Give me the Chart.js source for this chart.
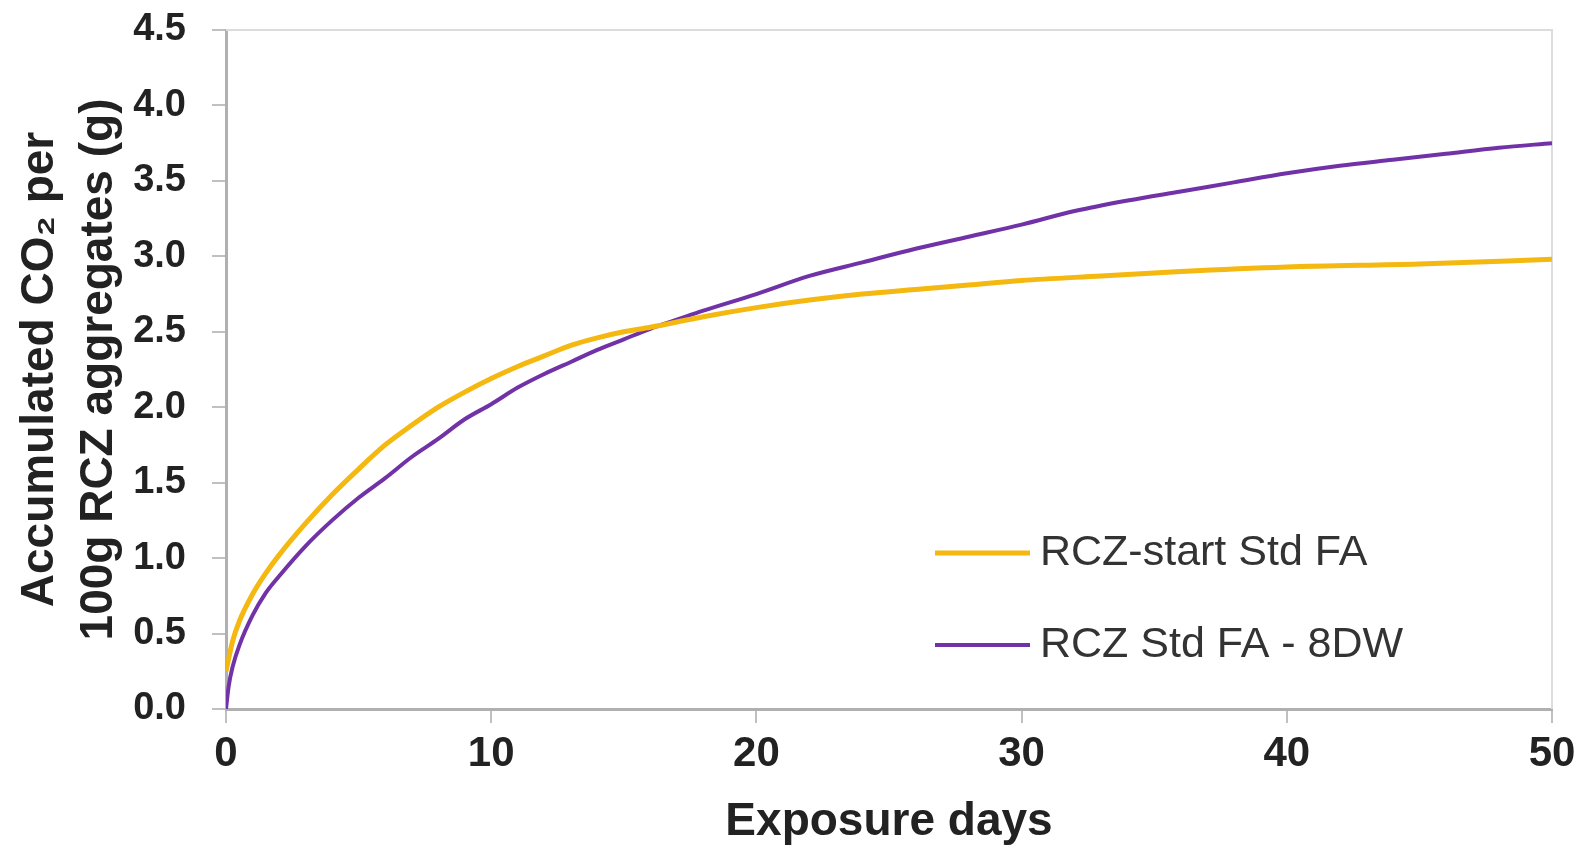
<!DOCTYPE html>
<html>
<head>
<meta charset="utf-8">
<script src="https://cdn.jsdelivr.net/npm/chart.js@4.4.0/dist/chart.umd.min.js"></script>
<style>
    html, body { margin: 0; padding: 0; background: #fff; }
    #wrap { width: 1583px; height: 854px; }
</style>
</head>
<body>
<div id="wrap"><canvas id="chartCO2" width="1583" height="854"></canvas></div>
<script>
// Datos
const diasStart = [0, 0.25, 0.5, 1, 1.5, 2, 3, 4, 5, 6, 7, 8, 9, 10, 11, 12, 13, 14, 15, 16, 18, 20, 22, 24, 26, 28, 30, 33, 36, 40, 45, 50];
const co2Start  = [0.25, 0.45, 0.58, 0.76, 0.90, 1.02, 1.23, 1.42, 1.59, 1.75, 1.88, 2.00, 2.10, 2.19, 2.27, 2.34, 2.41, 2.46, 2.50, 2.53, 2.60, 2.66, 2.71, 2.75, 2.78, 2.81, 2.84, 2.87, 2.90, 2.93, 2.95, 2.98];

const dias8DW = [0, 0.1, 0.25, 0.5, 1, 1.5, 2, 3, 4, 5, 6, 7, 8, 9, 10, 11, 12, 13, 14, 15, 16, 17, 18, 20, 22, 24, 26, 28, 30, 32, 34, 36, 38, 40, 42, 44, 46, 48, 50];
const co2_8DW = [0, 0.15, 0.28, 0.42, 0.62, 0.77, 0.88, 1.08, 1.25, 1.40, 1.53, 1.67, 1.79, 1.92, 2.02, 2.13, 2.22, 2.30, 2.38, 2.45, 2.52, 2.58, 2.64, 2.75, 2.87, 2.96, 3.05, 3.13, 3.21, 3.30, 3.37, 3.43, 3.49, 3.55, 3.60, 3.64, 3.68, 3.72, 3.75];

const nombresSeries = ['RCZ-start Std FA', 'RCZ Std FA - 8DW'];
const coloresSeries = ['#f4b810', '#7132a8'];
const ticksX = [0, 10, 20, 30, 40, 50];
const ticksY = [0, 0.5, 1, 1.5, 2, 2.5, 3, 3.5, 4, 4.5];

const FUENTE = '"Liberation Sans", Arial, sans-serif';

function aPuntos(xs, ys) {
    return xs.map((x, i) => ({ x: x, y: ys[i] }));
}

// Borde superior y derecho del área del gráfico (gris claro)
const bordePlugin = {
    id: 'bordeArea',
    beforeDatasetsDraw(chart) {
        const a = chart.chartArea;
        const ctx = chart.ctx;
        ctx.save();
        ctx.strokeStyle = '#dcdcdc';
        ctx.lineWidth = 2;
        ctx.beginPath();
        ctx.moveTo(a.left, a.top);
        ctx.lineTo(a.right, a.top);
        ctx.lineTo(a.right, a.bottom);
        ctx.stroke();
        ctx.restore();
    }
};

// Leyenda dentro del área, abajo a la derecha
const leyendaPlugin = {
    id: 'leyendaInterna',
    afterDatasetsDraw(chart) {
        const ctx = chart.ctx;
        const a = chart.chartArea;
        const x0 = a.left + 709;
        const filas = [a.top + 523, a.top + 615];
        ctx.save();
        chart.data.datasets.forEach((ds, i) => {
            const y = filas[i];
            ctx.strokeStyle = ds.borderColor;
            ctx.lineWidth = ds.borderWidth;
            ctx.beginPath();
            ctx.moveTo(x0, y);
            ctx.lineTo(x0 + 95, y);
            ctx.stroke();
            ctx.fillStyle = '#333';
            ctx.font = '43px ' + FUENTE;
            ctx.textBaseline = 'middle';
            ctx.textAlign = 'left';
            ctx.fillText(ds.label, x0 + 105, y);
        });
        ctx.restore();
    }
};

const ctx = document.getElementById('chartCO2').getContext('2d');
const chartCO2 = new Chart(ctx, {
    type: 'scatter',
    data: {
        datasets: [
            {
                label: nombresSeries[0],
                data: aPuntos(diasStart, co2Start),
                borderColor: coloresSeries[0],
                backgroundColor: coloresSeries[0],
                borderWidth: 5,
                showLine: true,
                pointRadius: 0,
                cubicInterpolationMode: 'monotone'
            },
            {
                label: nombresSeries[1],
                data: aPuntos(dias8DW, co2_8DW),
                borderColor: coloresSeries[1],
                backgroundColor: coloresSeries[1],
                borderWidth: 4,
                showLine: true,
                pointRadius: 0,
                cubicInterpolationMode: 'monotone'
            }
        ]
    },
    options: {
        responsive: false,
        animation: false,
        layout: { padding: { top: 30, right: 31, left: 0, bottom: 0 } },
        plugins: {
            legend: { display: false },
            tooltip: { enabled: false }
        },
        scales: {
            x: {
                type: 'linear',
                min: 0,
                max: 50,
                afterBuildTicks: (s) => { s.ticks = ticksX.map(v => ({ value: v })); },
                afterFit: (s) => { s.height = 145; s.paddingLeft = 0; s.paddingRight = 0; },
                border: { color: '#b0b0b0', width: 3 },
                grid: { drawOnChartArea: false, tickLength: 14, color: '#c0c0c0', lineWidth: 2 },
                ticks: {
                    color: '#222',
                    padding: 6,
                    font: { family: FUENTE, size: 42, weight: 'bold' },
                    maxRotation: 0
                },
                title: {
                    display: true,
                    text: 'Exposure days',
                    color: '#222',
                    padding: { top: 0, bottom: 4 },
                    font: { family: FUENTE, size: 46, weight: 'bold' }
                }
            },
            y: {
                min: 0,
                max: 4.5,
                afterBuildTicks: (s) => { s.ticks = ticksY.map(v => ({ value: v })); },
                afterFit: (s) => { s.width = 226; s.paddingTop = 0; s.paddingBottom = 0; },
                border: { color: '#b0b0b0', width: 3 },
                grid: { drawOnChartArea: false, tickLength: 14, color: '#c0c0c0', lineWidth: 2 },
                ticks: {
                    color: '#222',
                    padding: 26,
                    font: { family: FUENTE, size: 38, weight: 'bold' },
                    callback: (v) => Number(v).toFixed(1)
                },
                title: {
                    display: true,
                    text: ['Accumulated CO\u2082 per', '100g RCZ aggregates (g)'],
                    color: '#222',
                    padding: { top: 10, bottom: 0 },
                    font: { family: FUENTE, size: 46, weight: 'bold', lineHeight: 1.3 }
                }
            }
        }
    },
    plugins: [bordePlugin, leyendaPlugin]
});
</script>
</body>
</html>
